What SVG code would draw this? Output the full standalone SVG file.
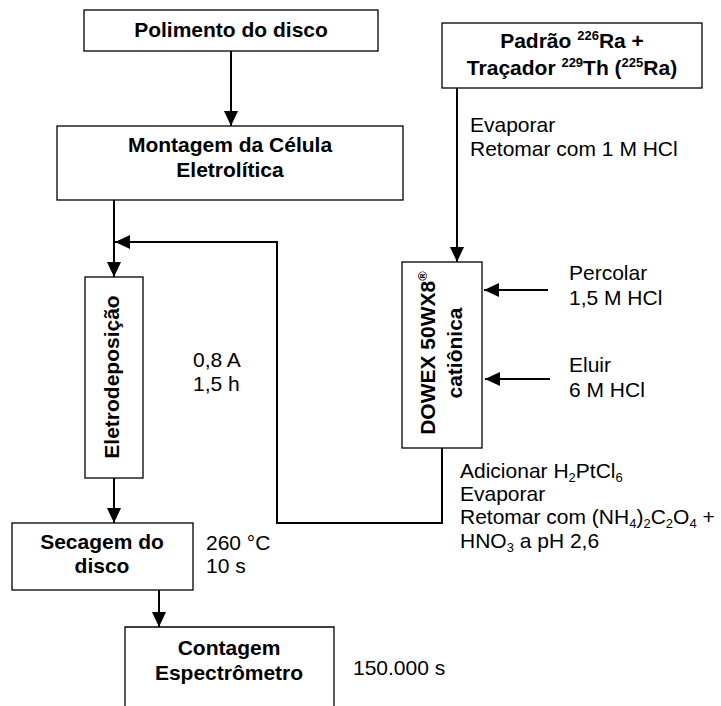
<svg xmlns="http://www.w3.org/2000/svg" width="721" height="706" viewBox="0 0 721 706">
<defs>
<marker id="ah" viewBox="0 0 15 14" refX="15" refY="7" markerWidth="15" markerHeight="14" markerUnits="userSpaceOnUse" orient="auto">
<path d="M0,0 L15,7 L0,14 Z" fill="#000"/>
</marker>
</defs>
<style>
.box{fill:#fff;stroke:#000;stroke-width:1.3}
.b{font-family:"Liberation Sans",Arial,sans-serif;font-weight:bold;font-size:21px;fill:#000}
.t{font-family:"Liberation Sans",Arial,sans-serif;font-size:21px;fill:#000}
.sup{font-size:13px}
.c{fill:none;stroke:#000;stroke-width:2}
</style>
<rect width="721" height="706" fill="#fff"/>
<g id="connectors">
<line class="c" x1="231" y1="51" x2="231" y2="126" marker-end="url(#ah)"/>
<line class="c" x1="114" y1="200" x2="114" y2="277" marker-end="url(#ah)"/>
<polyline class="c" points="442,448 442,523 277,523 277,242 115,242" marker-end="url(#ah)"/>
<line class="c" x1="114" y1="478" x2="114" y2="523" marker-end="url(#ah)"/>
<line class="c" x1="159" y1="590" x2="159" y2="627" marker-end="url(#ah)"/>
<line class="c" x1="457" y1="88" x2="457" y2="262" marker-end="url(#ah)"/>
<line class="c" x1="548" y1="290" x2="484" y2="290" marker-end="url(#ah)"/>
<line class="c" x1="550" y1="379" x2="485" y2="379" marker-end="url(#ah)"/>
</g>
<g id="polimento">
<rect class="box" x="84" y="10" width="294" height="41"/>
<text class="b" x="231" y="37" text-anchor="middle">Polimento do disco</text>
</g>
<g id="montagem">
<rect class="box" x="57" y="126" width="346" height="74"/>
<text class="b" x="230" y="152" text-anchor="middle">Montagem da Célula</text>
<text class="b" x="230" y="177" text-anchor="middle">Eletrolítica</text>
</g>
<g id="eletrodeposicao">
<rect class="box" x="85" y="277" width="58" height="201"/>
<text class="b" transform="translate(114,377) rotate(-90)" text-anchor="middle" y="5">Eletrodeposição</text>
<text class="t" x="193" y="367">0,8 A</text>
<text class="t" x="193" y="391">1,5 h</text>
</g>
<g id="secagem">
<rect class="box" x="12" y="523" width="181" height="67"/>
<text class="b" x="102" y="549" text-anchor="middle">Secagem do</text>
<text class="b" x="102" y="573" text-anchor="middle">disco</text>
<text class="t" x="206" y="550">260 °C</text>
<text class="t" x="206" y="573">10 s</text>
</g>
<g id="contagem">
<path class="box" d="M125,707 V627 H334 V707"/>
<text class="b" x="229" y="655" text-anchor="middle">Contagem</text>
<text class="b" x="229" y="680" text-anchor="middle">Espectrômetro</text>
<text class="t" x="353" y="675">150.000 s</text>
</g>
<g id="padrao">
<rect class="box" x="442" y="23" width="260" height="65"/>
<text class="b" x="572" y="48" text-anchor="middle">Padrão <tspan class="sup" dy="-8">226</tspan><tspan dy="8">Ra +</tspan></text>
<text class="b" x="572" y="75" text-anchor="middle">Traçador <tspan class="sup" dy="-8">229</tspan><tspan dy="8">Th (</tspan><tspan class="sup" dy="-8">225</tspan><tspan dy="8">Ra)</tspan></text>
<text class="t" x="470" y="132">Evaporar</text>
<text class="t" x="470" y="156">Retomar com 1 M HCl</text>
</g>
<g id="dowex">
<rect class="box" x="402" y="262" width="80" height="186"/>
<text class="b" transform="translate(442,353) rotate(-90)" text-anchor="middle"><tspan x="0" y="-7">DOWEX 50WX8<tspan class="sup" dy="-8">®</tspan></tspan><tspan x="0" y="20">catiônica</tspan></text>
<text class="t" x="569" y="280">Percolar</text>
<text class="t" x="569" y="305">1,5 M HCl</text>
<text class="t" x="569" y="372">Eluir</text>
<text class="t" x="569" y="397">6 M HCl</text>
<text class="t" x="460" y="478">Adicionar H<tspan class="sup" dy="4">2</tspan><tspan dy="-4">PtCl</tspan><tspan class="sup" dy="4">6</tspan></text>
<text class="t" x="460" y="501">Evaporar</text>
<text class="t" x="460" y="524">Retomar com (NH<tspan class="sup" dy="4">4</tspan><tspan dy="-4">)</tspan><tspan class="sup" dy="4">2</tspan><tspan dy="-4">C</tspan><tspan class="sup" dy="4">2</tspan><tspan dy="-4">O</tspan><tspan class="sup" dy="4">4</tspan><tspan dy="-4"> +</tspan></text>
<text class="t" x="460" y="548">HNO<tspan class="sup" dy="4">3</tspan><tspan dy="-4"> a pH 2,6</tspan></text>
</g>
</svg>
